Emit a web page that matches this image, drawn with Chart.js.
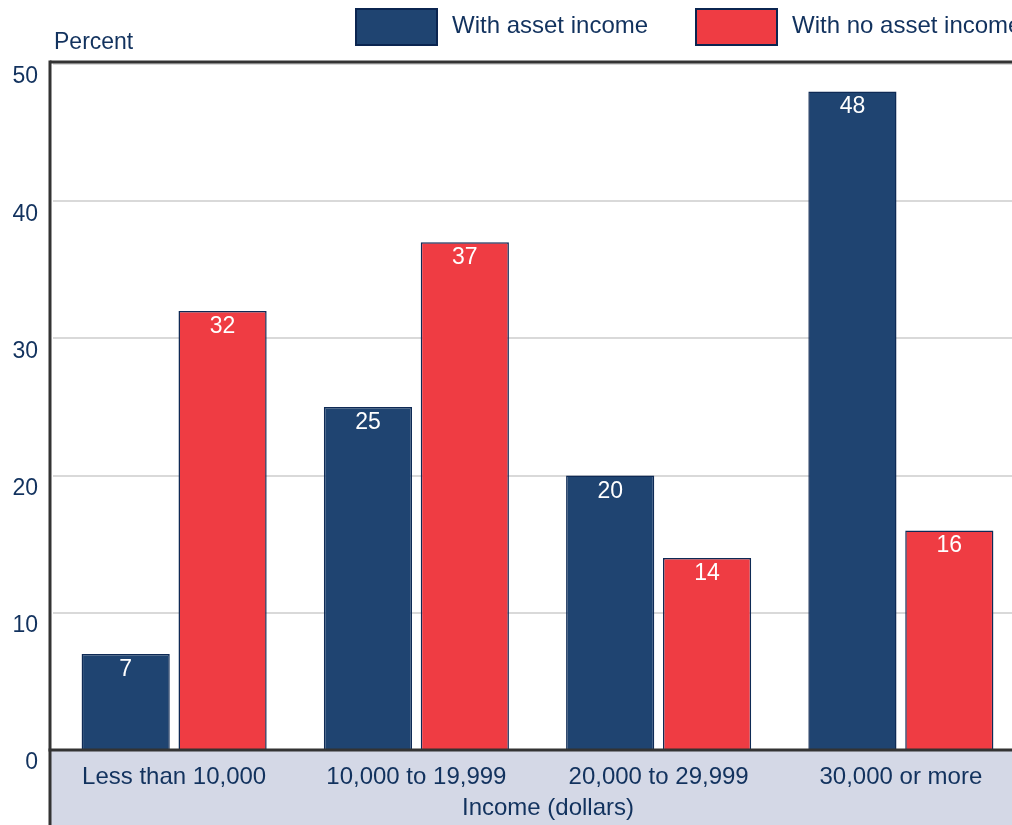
<!DOCTYPE html>
<html>
<head>
<meta charset="utf-8">
<script src="https://cdn.jsdelivr.net/npm/chart.js@4.4.1/dist/chart.umd.min.js"></script>
<style>
    html, body { margin: 0; padding: 0; background: #ffffff; overflow: hidden; }
    #wrap { width: 1040px; height: 825px; position: relative; }
</style>
</head>
<body>
<div id="wrap"><canvas id="chartIncome"></canvas></div>
<script>
const categorias = ['Less than 10,000', '10,000 to 19,999', '20,000 to 29,999', '30,000 or more'];
const conActivos = [7, 25, 20, 48];
const sinActivos = [32, 37, 14, 16];
const nombresSeries = ['With asset income', 'With no asset income'];
const ticksY = [0, 10, 20, 30, 40, 50];

const FUENTE = '"Liberation Sans", Arial, Helvetica, sans-serif';
const AZUL = '#1f4471';
const ROJO = '#ef3c43';
const TINTA = '#12325e';
const BORDE = '#0e2a55';

const decoracion = {
    id: 'decoracion',
    beforeDraw(chart) {
        const { ctx, chartArea, width, height } = chart;
        ctx.save();
        ctx.fillStyle = '#ffffff';
        ctx.fillRect(0, 0, width, height);
        // banda inferior
        ctx.fillStyle = '#d4d8e6';
        ctx.fillRect(chartArea.left - 2, chartArea.bottom, width - chartArea.left, height - chartArea.bottom);
        ctx.restore();
    },
    afterDraw(chart) {
        const { ctx, chartArea, height } = chart;
        const x0 = chartArea.left - 3;
        ctx.save();
        // marco superior, eje izquierdo y linea del cero
        ctx.strokeStyle = '#333333';
        ctx.lineWidth = 3;
        ctx.beginPath();
        ctx.moveTo(x0, chartArea.top - 2);
        ctx.lineTo(chart.width, chartArea.top - 2);
        ctx.stroke();
        ctx.beginPath();
        ctx.moveTo(x0, chartArea.top - 3.5);
        ctx.lineTo(x0, height);
        ctx.stroke();
        ctx.beginPath();
        ctx.moveTo(x0 - 1.5, chartArea.bottom);
        ctx.lineTo(chart.width, chartArea.bottom);
        ctx.stroke();

        // textos
        ctx.fillStyle = TINTA;
        ctx.font = '23px ' + FUENTE;
        ctx.textBaseline = 'middle';
        ctx.textAlign = 'left';
        ctx.fillText('Percent', 54, 43);
        ctx.textAlign = 'center';
        ctx.font = '24px ' + FUENTE;
        ctx.fillText('Income (dollars)', 548, 808);

        // leyenda
        const items = [
            { x: 356, color: AZUL, texto: nombresSeries[0] },
            { x: 696, color: ROJO, texto: nombresSeries[1] }
        ];
        items.forEach(it => {
            ctx.fillStyle = it.color;
            ctx.fillRect(it.x, 9, 81, 36);
            ctx.strokeStyle = '#0b2550';
            ctx.lineWidth = 2;
            ctx.strokeRect(it.x, 9, 81, 36);
            ctx.fillStyle = TINTA;
            ctx.textAlign = 'left';
            ctx.font = '24px ' + FUENTE;
            ctx.fillText(it.texto, it.x + 96, 26);
        });
        ctx.restore();
    },
    afterDatasetsDraw(chart) {
        const { ctx } = chart;
        ctx.save();
        ctx.fillStyle = '#ffffff';
        ctx.font = '23px ' + FUENTE;
        ctx.textAlign = 'center';
        ctx.textBaseline = 'alphabetic';
        chart.data.datasets.forEach((ds, i) => {
            chart.getDatasetMeta(i).data.forEach((bar, j) => {
                ctx.fillText(String(ds.data[j]), bar.x, bar.y + 22);
            });
        });
        ctx.restore();
    }
};

new Chart(document.getElementById('chartIncome'), {
    type: 'bar',
    data: {
        labels: categorias,
        datasets: [
            {
                label: nombresSeries[0],
                data: conActivos,
                backgroundColor: AZUL,
                borderColor: BORDE,
                borderWidth: 1.5,
                categoryPercentage: 0.8,
                barPercentage: 0.91
            },
            {
                label: nombresSeries[1],
                data: sinActivos,
                backgroundColor: ROJO,
                borderColor: BORDE,
                borderWidth: 1.5,
                categoryPercentage: 0.8,
                barPercentage: 0.91
            }
        ]
    },
    options: {
        responsive: true,
        maintainAspectRatio: false,
        animation: false,
        layout: { padding: { top: 64, right: 18, left: 1, bottom: 0 } },
        plugins: {
            legend: { display: false },
            tooltip: { enabled: false }
        },
        scales: {
            x: {
                grid: { display: false },
                border: { display: false },
                ticks: {
                    color: TINTA,
                    font: { family: FUENTE, size: 24 },
                    padding: 5,
                    maxRotation: 0
                },
                afterFit: scale => { scale.height = 75; }
            },
            y: {
                min: 0,
                max: 50,
                afterBuildTicks: scale => { scale.ticks = ticksY.map(v => ({ value: v })); },
                border: { display: false },
                grid: {
                    drawTicks: false,
                    color: c => (c.tick && (c.tick.value === 0) ? 'rgba(0,0,0,0)' : '#d9d9d9'),
                    lineWidth: 2
                },
                ticks: {
                    color: TINTA,
                    font: { family: FUENTE, size: 23 },
                    padding: 15,
                    labelOffset: 13
                },
                afterFit: scale => { scale.width = 52; }
            }
        }
    },
    plugins: [decoracion]
});
</script>
</body>
</html>
